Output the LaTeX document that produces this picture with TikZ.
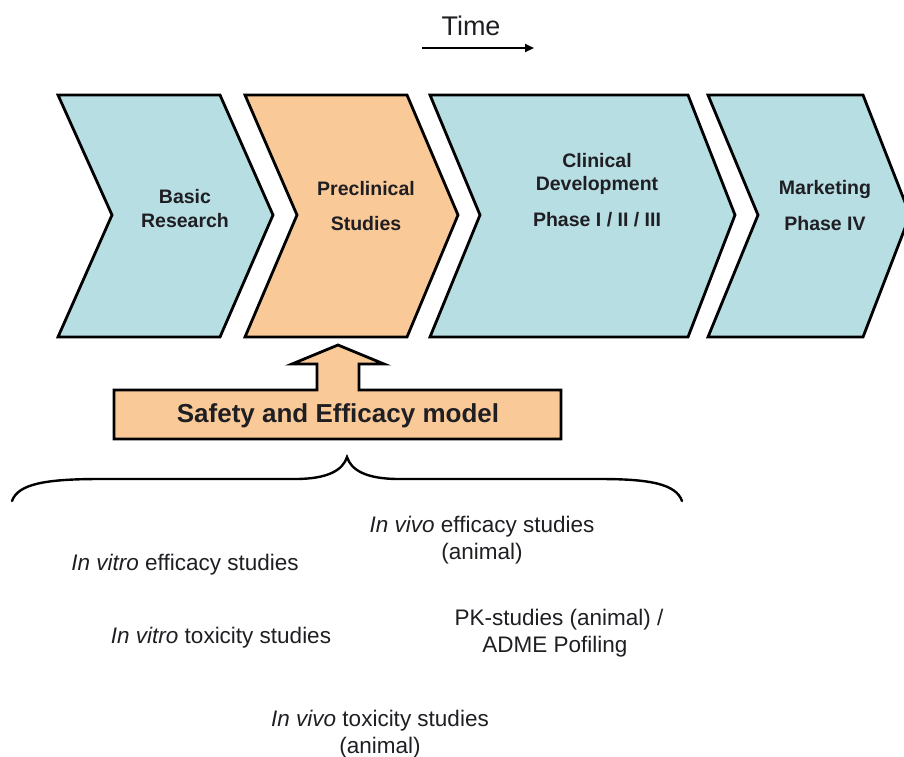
\documentclass[tikz,border=0pt]{standalone}
\usepackage{fontspec}
\setmainfont{Liberation Sans}
\usetikzlibrary{arrows.meta}
\definecolor{chblue}{RGB}{183,222,227}
\definecolor{chpeach}{RGB}{250,201,152}
\definecolor{txt}{RGB}{30,30,35}
\begin{document}
\begin{tikzpicture}[x=1pt,y=-1pt,
  chev/.style={draw=black, line width=2.8pt, line join=miter},
  steplbl/.style={font=\fontsize{19.5}{23}\selectfont\bfseries, text=txt, inner sep=0pt, text height=0.72em, text depth=0pt, anchor=center},
  studylbl/.style={font=\fontsize{22.5}{27}\selectfont, text=txt, inner sep=0pt, text height=0.6em, text depth=0pt, anchor=center},
]
\useasboundingbox (0,0) rectangle (904,756);
\clip (0,0) rectangle (904,756);
% time
\node[font=\fontsize{27}{32}\selectfont, text=txt, inner sep=0pt, text height=0.72em, text depth=0pt] (time) at (471,32) {Time};
\coordinate (ta) at (422,48);
\coordinate (tb) at (534,48);
\draw[line width=2pt, -{Triangle[length=9pt,width=8pt]}] (ta) -- (tb);
% chevrons
\draw[chev, fill=chblue] (58,95) -- (220,95) -- (273,215) -- (220,337) -- (58,337) -- (112,215) -- cycle;
\draw[chev, fill=chpeach] (245,95) -- (407,95) -- (458,215) -- (407,337) -- (245,337) -- (297,215) -- cycle;
\draw[chev, fill=chblue] (430,95) -- (688,95) -- (735,215) -- (688,337) -- (430,337) -- (480,215) -- cycle;
\draw[chev, fill=chblue] (708,95) -- (863,95) -- (910,215) -- (863,337) -- (708,337) -- (758,215) -- cycle;
% chevron labels
\node[steplbl] (basic1) at (185,200) {Basic};
\node[steplbl] (basic2) at (185,224) {Research};
\node[steplbl] (pre1) at (366,192) {Preclinical};
\node[steplbl] (pre2) at (366,227) {Studies};
\node[steplbl] (cl1) at (597,164) {Clinical};
\node[steplbl] (cl2) at (597,187) {Development};
\node[steplbl] (cl3) at (597,223) {Phase I / II / III};
\node[steplbl] (mk1) at (825,191) {Marketing};
\node[steplbl] (mk2) at (825,227) {Phase IV};
% block arrow + box
\draw[chev, fill=chpeach] (114,390) -- (317,390) -- (317,364) -- (292,364) -- (338,345) -- (384,364) -- (359,364) -- (359,390) -- (561,390) -- (561,439) -- (114,439) -- cycle;
\node[font=\fontsize{26}{31}\selectfont\bfseries, text=txt, inner sep=0pt, text height=0.72em, text depth=0pt] (safety) at (338,419) {Safety and Efficacy model};
% brace
\coordinate (bl) at (12,501);
\coordinate (bt) at (347,457);
\coordinate (br) at (682,501);
\draw[line width=2.4pt, line cap=round] (bl) .. controls (18,484) and (45,479) .. (100,479) -- (295,479) .. controls (328,479) and (343,470) .. (bt) .. controls (351,470) and (366,479) .. (399,479) -- (600,479) .. controls (650,479) and (676,484) .. (br);
% studies
\node[studylbl] (s1) at (185,567) {\textit{In vitro} efficacy studies};
\node[studylbl] (s2) at (221,640) {\textit{In vitro} toxicity studies};
\node[studylbl] (s3a) at (482,529) {\textit{In vivo} efficacy studies};
\node[studylbl] (s3b) at (482,556) {(animal)};
\node[studylbl] (s4a) at (559,622) {PK-studies (animal) /};
\node[studylbl] (s4b) at (555,649) {ADME Pofiling};
\node[studylbl] (s5a) at (380,723) {\textit{In vivo} toxicity studies};
\node[studylbl] (s5b) at (380,750) {(animal)};
\end{tikzpicture}
\end{document}
